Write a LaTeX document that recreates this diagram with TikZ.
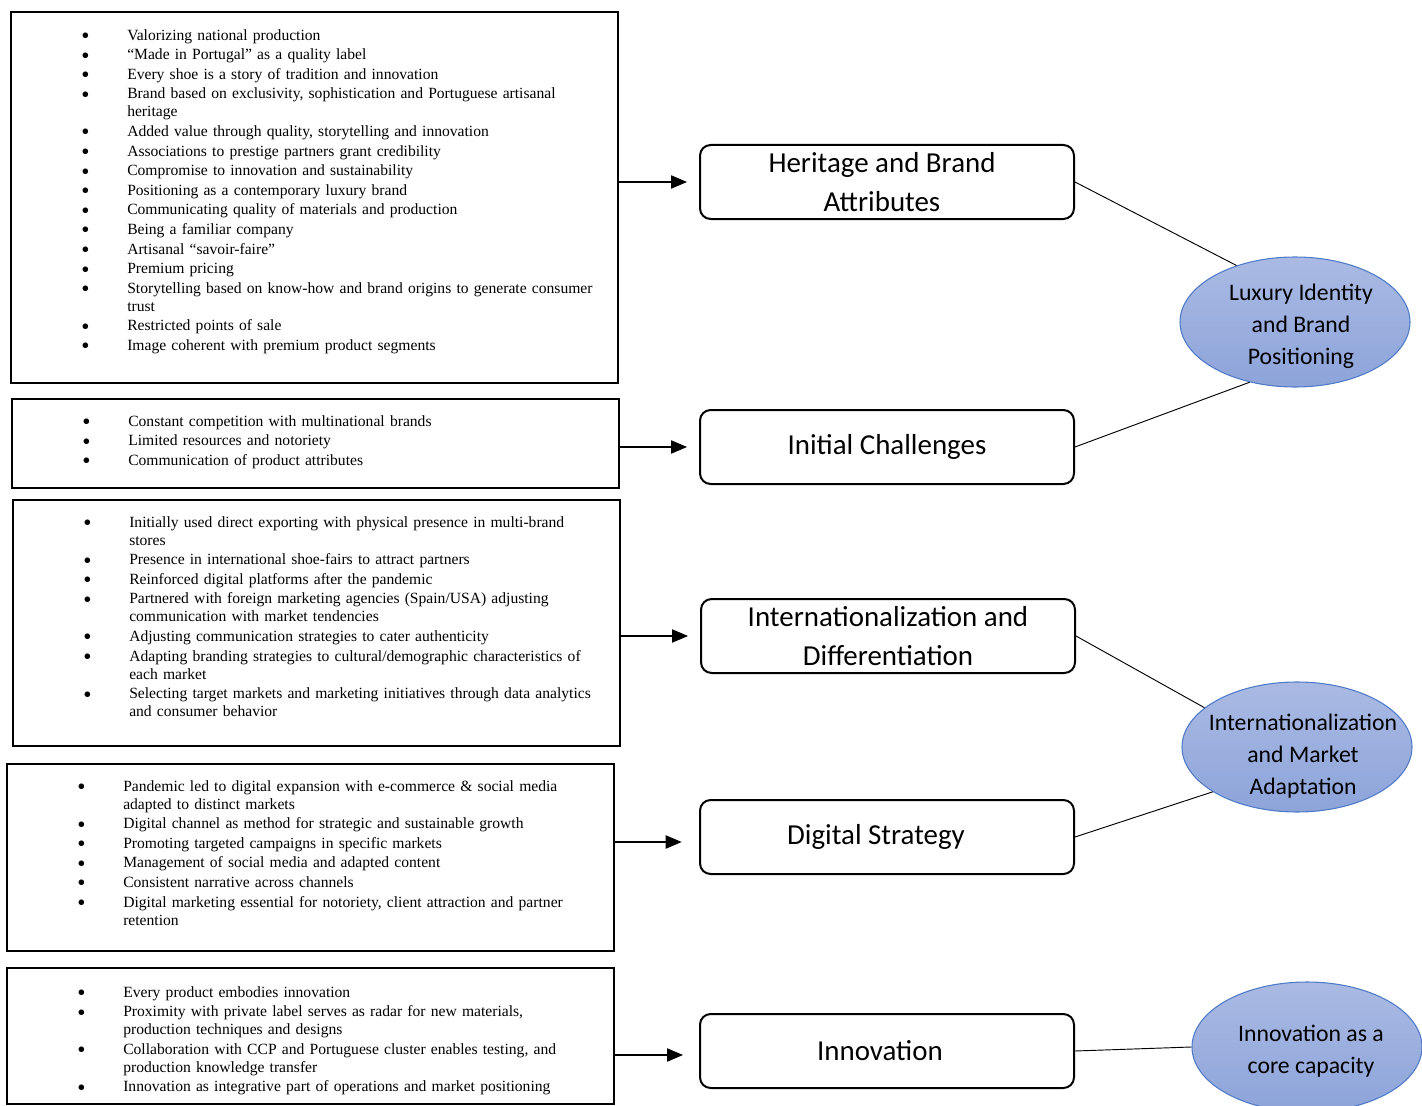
\documentclass[tikz,border=0pt]{standalone}
\usepackage{fontspec}
\setmainfont{Liberation Serif}
\newfontfamily\calib{Carlito}
\usepackage{xcolor}
\usetikzlibrary{positioning,fit,arrows.meta,shapes.geometric}
\definecolor{ellTop}{HTML}{AABAE3}
\definecolor{ellBot}{HTML}{8DA4DA}
\definecolor{ellLine}{HTML}{4E7AC7}
\newcommand{\litem}[1]{\noindent\hangindent=34.5pt\hangafter=1\makebox[34.5pt][l]{\smash{\raisebox{-2.6pt}{\scalebox{1.5}{\textbullet}}}}#1\par}

\begin{document}
\begin{tikzpicture}[x=0.75pt,y=-0.75pt,
	frame/.style={draw,line width=1.6pt,inner sep=0pt},
	bullets/.style={anchor=north west,inner sep=0pt,text width=400pt,align=left,
		font=\fontsize{11.7}{13.5}\selectfont,execute at begin node={\setlength{\parskip}{1.2pt}}},
	catbox/.style={draw,line width=1.5pt,rounded corners=8pt,minimum width=280.5pt,minimum height=55.5pt,
		align=center,font=\calib\fontsize{21.7}{29}\selectfont},
	theme/.style={ellipse,draw=ellLine,line width=0.8pt,top color=ellTop,bottom color=ellBot,
		minimum width=172.5pt,minimum height=97.5pt,inner sep=0pt},
	themelabel/.style={align=center,inner sep=0pt,font=\calib\fontsize{17.8}{24}\selectfont},
	feed/.style={-{Triangle[length=12pt,width=10pt]},line width=0.8pt,shorten >=9pt},
	link/.style={line width=0.7pt}]
	\useasboundingbox (0,0) rectangle (1422,1106);
	\clip (0,0) rectangle (1422,1106);
	% left boxes
	\node[frame,fit={(11,12) (618,383)}] (attrbox) {};
	\node[frame,fit={(12,399) (619,488)}] (chalbox) {};
	\node[frame,fit={(13,500) (620,746)}] (intlbox) {};
	\node[frame,fit={(7,764) (614,951)}] (digbox) {};
	\node[frame,fit={(7,968) (614,1104)}] (innobox) {};
	% lists
	\node[bullets] (attrlist) at (81,29) {%
		\litem{Valorizing national production}
		\litem{“Made in Portugal” as a quality label}
		\litem{Every shoe is a story of tradition and innovation}
		\litem{Brand based on exclusivity, sophistication and Portuguese artisanal\newline heritage}
		\litem{Added value through quality, storytelling and innovation}
		\litem{Associations to prestige partners grant credibility}
		\litem{Compromise to innovation and sustainability}
		\litem{Positioning as a contemporary luxury brand}
		\litem{Communicating quality of materials and production}
		\litem{Being a familiar company}
		\litem{Artisanal “savoir-faire”}
		\litem{Premium pricing}
		\litem{Storytelling based on know-how and brand origins to generate consumer\newline trust}
		\litem{Restricted points of sale}
		\litem{Image coherent with premium product segments}};
	\node[bullets] (challist) at (82,415) {%
		\litem{Constant competition with multinational brands}
		\litem{Limited resources and notoriety}
		\litem{Communication of product attributes}};
	\node[bullets] (intllist) at (83,516) {%
		\litem{Initially used direct exporting with physical presence in multi-brand\newline stores}
		\litem{Presence in international shoe-fairs to attract partners}
		\litem{Reinforced digital platforms after the pandemic}
		\litem{Partnered with foreign marketing agencies (Spain/USA) adjusting\newline communication with market tendencies}
		\litem{Adjusting communication strategies to cater authenticity}
		\litem{Adapting branding strategies to cultural/demographic characteristics of\newline each market}
		\litem{Selecting target markets and marketing initiatives through data analytics\newline and consumer behavior}};
	\node[bullets] (diglist) at (77,780) {%
		\litem{Pandemic led to digital expansion with e-commerce \& social media\newline adapted to distinct markets}
		\litem{Digital channel as method for strategic and sustainable growth}
		\litem{Promoting targeted campaigns in specific markets}
		\litem{Management of social media and adapted content}
		\litem{Consistent narrative across channels}
		\litem{Digital marketing essential for notoriety, client attraction and partner\newline retention}};
	\node[bullets] (innolist) at (77,986) {%
		\litem{Every product embodies innovation}
		\litem{Proximity with private label serves as radar for new materials,\newline production techniques and designs}
		\litem{Collaboration with CCP and Portuguese cluster enables testing, and\newline production knowledge transfer}
		\litem{Innovation as integrative part of operations and market positioning}};
	% categories
	\node[catbox] (heritage) at (887,182) {\hspace*{-7.5pt}Heritage and Brand\\\hspace*{-7.5pt}Attributes};
	\node[catbox] (challenges) at (887,447) {Initial Challenges};
	\node[catbox] (internat) at (888,636) {Internationalization and\\Differentiation};
	\node[catbox] (digital) at (887,837) {\hspace*{-16.5pt}Digital Strategy};
	\node[catbox] (innovation) at (887,1051) {\hspace*{-10.5pt}Innovation};
	% themes
	\node[theme,label={[themelabel,xshift=4.5pt,yshift=-3pt]center:Luxury Identity\\and Brand\\Positioning}] (luxury) at (1295,322) {};
	\node[theme,label={[themelabel,xshift=4.5pt,yshift=-7pt]center:Internationalization\\and Market\\Adaptation}] (market) at (1297,747) {};
	\node[theme,label={[themelabel,xshift=3pt,yshift=-3pt]center:Innovation as a\\core capacity}] (core) at (1307,1047) {};
	% arrows
	\draw[feed] (attrbox.east |- heritage.west) -- (heritage.west);
	\draw[feed] (chalbox.east |- challenges.west) -- (challenges.west);
	\draw[feed] (intlbox.east |- internat.west) -- (internat.west);
	\draw[feed,shorten >=13pt] ([yshift=-3.75pt]digbox.east |- digital.west) -- ([yshift=-3.75pt]digital.west);
	\draw[feed,shorten >=12pt] ([yshift=-3pt]innobox.east |- innovation.west) -- ([yshift=-3pt]innovation.west);
	% links
	\draw[link] (heritage.east) -- (luxury.136);
	\draw[link] (challenges.east) -- (luxury.233);
	\draw[link] (internat.east) -- (market.157);
	\draw[link] (digital.east) -- (market.208);
	\draw[link] (innovation.east) -- (core.180);
\end{tikzpicture}
\end{document}
